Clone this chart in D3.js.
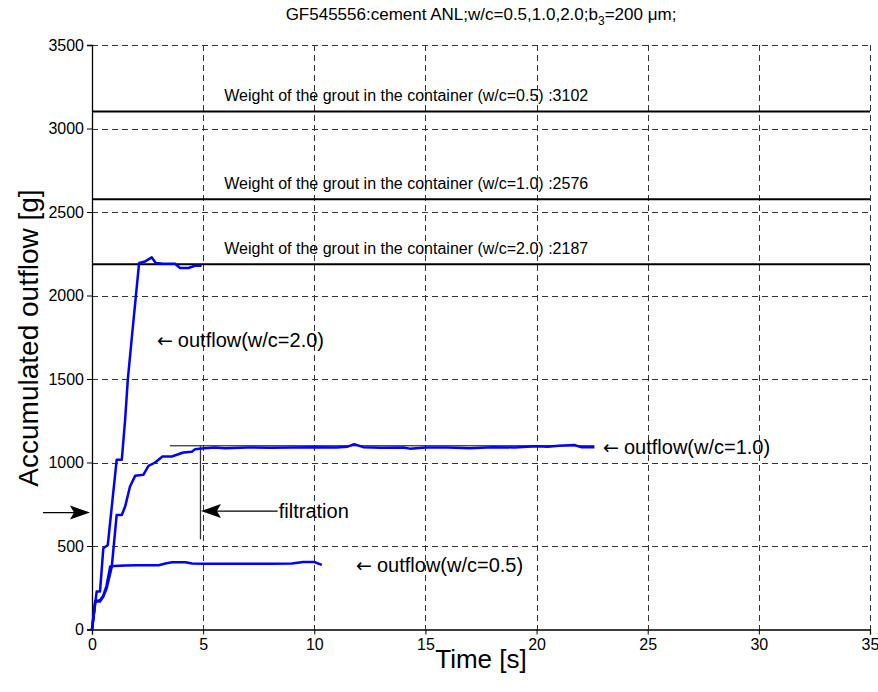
<!DOCTYPE html>
<html>
<head>
<meta charset="utf-8">
<script src="https://cdn.jsdelivr.net/npm/d3@7"></script>
<style>
  html, body { margin: 0; padding: 0; background: #fff; }
  svg { display: block; font-family: "Liberation Sans", Arial, Helvetica, sans-serif; }
</style>
</head>
<body>
<svg id="chart" width="878" height="692"></svg>
<script>
// Axis ticks
const timeTicks = [0, 5, 10, 15, 20, 25, 30, 35];
const outflowTicks = [0, 500, 1000, 1500, 2000, 2500, 3000, 3500];

// Weight of grout in the container for each w/c ratio
const groutRatios = ["0.5", "1.0", "2.0"];
const groutWeights = [3102, 2576, 2187];

// Accumulated outflow, w/c = 2.0
const time20 = [0, 0.21, 0.36, 0.51, 0.71, 1.11, 1.34, 1.49, 1.61, 1.8, 1.98, 2.12, 2.39, 2.69, 2.87, 3.2, 3.74, 3.96, 4.34, 4.63, 4.93];
const flow20 = [0, 227, 227, 487, 506, 1016, 1016, 1256, 1495, 1760, 2005, 2195, 2204, 2228, 2195, 2190, 2190, 2165, 2165, 2178, 2178];

// Accumulated outflow, w/c = 1.0
const time10 = [0, 0.14, 0.36, 0.51, 0.66, 0.89, 1.11, 1.34, 1.49, 1.71, 1.94, 2.31, 2.54, 2.84, 3.17, 3.59, 4.11, 4.49, 4.64, 4.94,
  5.5, 6, 7, 8, 9, 10, 11, 11.5, 11.8, 12.2, 13, 14, 14.3, 15, 16, 17, 18, 19, 20, 20.5, 21, 21.7, 22, 22.6];
const flow10 = [0, 167, 167, 197, 247, 376, 686, 686, 736, 856, 920, 926, 980, 1000, 1036, 1036, 1060, 1064, 1080, 1084,
  1090, 1085, 1090, 1088, 1090, 1092, 1090, 1095, 1110, 1092, 1088, 1090, 1083, 1090, 1090, 1085, 1092, 1090, 1098, 1095, 1100, 1105, 1092, 1092];

// Accumulated outflow, w/c = 0.5
const time05 = [0, 0.15, 0.35, 0.5, 0.65, 0.82, 1.0, 1.5, 2.0, 3.0, 3.3, 3.6, 4.2, 4.5, 5.0, 6, 7, 8, 9, 9.5, 10.0, 10.34];
const flow05 = [0, 170, 175, 200, 260, 378, 380, 383, 385, 385, 395, 403, 403, 395, 393, 393, 393, 393, 395, 404, 404, 387];

// Text annotations next to the curves
const curveNotes = ["outflow(w/c=2.0)", "outflow(w/c=1.0)", "outflow(w/c=0.5)"];
const noteTime = [2.92, 22.99, 11.88];
const noteFlow = [1732, 1092, 386];

const svg = d3.select("#chart");
const margin = { left: 92, right: 8, top: 45, bottom: 62.5 };
const W = 878, H = 692;

const x = d3.scaleLinear().domain([0, 35]).range([margin.left, W - margin.right]);
const y = d3.scaleLinear().domain([0, 3500]).range([H - margin.bottom, margin.top]);

// Dashed grid
const grid = svg.append("g").attr("stroke", "#333").attr("stroke-width", 1).attr("stroke-dasharray", "6,4");
grid.selectAll("line.v").data(timeTicks.slice(1)).join("line")
  .attr("x1", d => Math.round(x(d)) + 0.5).attr("x2", d => Math.round(x(d)) + 0.5)
  .attr("y1", y(3500)).attr("y2", y(0));
grid.selectAll("line.h").data(outflowTicks.slice(1)).join("line")
  .attr("x1", x(0)).attr("x2", x(35))
  .attr("y1", d => Math.round(y(d)) + 0.5).attr("y2", d => Math.round(y(d)) + 0.5);

// Axes
const xAxis = d3.axisBottom(x).tickValues(timeTicks).tickSize(5).tickPadding(4).tickFormat(d3.format("d"));
const yAxis = d3.axisLeft(y).tickValues(outflowTicks).tickSize(5).tickPadding(3).tickFormat(d3.format("d"));

const gx = svg.append("g").attr("transform", `translate(0,${y(0)})`).call(xAxis);
const gy = svg.append("g").attr("transform", `translate(${x(0)},0)`).call(yAxis);
[gx, gy].forEach(g => {
  g.select(".domain").attr("stroke", "#000").attr("stroke-width", 1.3);
  g.selectAll(".tick line").attr("stroke", "#000");
  g.selectAll(".tick text").attr("fill", "#000").style("font-size", "16px")
    .style("font-family", "'Liberation Sans', Arial, sans-serif");
});

// Grout weight reference lines
svg.append("g").selectAll("line").data(groutWeights).join("line")
  .attr("x1", x(0)).attr("x2", x(35))
  .attr("y1", d => y(d)).attr("y2", d => y(d))
  .attr("stroke", "#000").attr("stroke-width", 2);

svg.append("g").selectAll("text").data(groutWeights).join("text")
  .attr("x", x(5.95))
  .attr("y", d => y(d) - 10)
  .style("font-size", "16px")
  .text((d, i) => `Weight of the grout in the container (w/c=${groutRatios[i]}) :${d}`);

// Filtration marker lines
svg.append("line")
  .attr("x1", x(3.5)).attr("x2", x(22.6)).attr("y1", y(1100)).attr("y2", y(1100))
  .attr("stroke", "#000").attr("stroke-width", 1);
svg.append("line")
  .attr("x1", x(4.88)).attr("x2", x(4.88)).attr("y1", y(1100)).attr("y2", y(540))
  .attr("stroke", "#333").attr("stroke-width", 1.3);

// Outflow curves
const line = d3.line().x(d => x(d[0])).y(d => y(d[1]));
const curves = [[time20, flow20], [time10, flow10], [time05, flow05]];
svg.append("g").selectAll("path").data(curves).join("path")
  .attr("d", c => line(c[0].map((t, i) => [t, c[1][i]])))
  .attr("fill", "none").attr("stroke", "#0000ff").attr("stroke-width", 2.5)
  .attr("stroke-linejoin", "round");

// Curve annotations: arrow glyph followed by the label
const notes = svg.append("g").selectAll("text").data(curveNotes).join("text")
  .attr("x", (d, i) => x(noteTime[i]))
  .attr("y", (d, i) => y(noteFlow[i]) + 7)
  .style("font-size", "20px");
notes.append("tspan").style("font-family", "'DejaVu Sans', sans-serif").style("font-size", "19px").text("\u2190");
notes.append("tspan").attr("dx", 5).text(d => d);

// Arrow helper: filled head with a slightly concave back
function arrowHead(tipX, tipY, dir) {
  const L = 20, Hh = 7, back = 4;
  return `M${tipX},${tipY} L${tipX - dir * L},${tipY - Hh} L${tipX - dir * (L - back)},${tipY} L${tipX - dir * L},${tipY + Hh} Z`;
}

// "filtration" arrow pointing at the filtration onset
const fy = y(709);
svg.append("line").attr("x1", x(4.9) + 16).attr("x2", x(8.35)).attr("y1", fy).attr("y2", fy)
  .attr("stroke", "#000").attr("stroke-width", 1.2);
svg.append("path").attr("d", arrowHead(x(4.9), fy, -1)).attr("fill", "#000");
svg.append("text").attr("x", x(8.4)).attr("y", fy + 7).style("font-size", "20px").text("filtration");

// Arrow at the axis marking the same level
const ay = y(700);
svg.append("line").attr("x1", 43).attr("x2", x(0) - 16).attr("y1", ay).attr("y2", ay)
  .attr("stroke", "#000").attr("stroke-width", 1.2);
svg.append("path").attr("d", arrowHead(x(0) - 2, ay, 1)).attr("fill", "#000");

// Title and axis labels
const title = svg.append("text").attr("x", 481).attr("y", 20).attr("text-anchor", "middle").style("font-size", "17px");
title.append("tspan").text("GF545556:cement ANL;w/c=0.5,1.0,2.0;b");
title.append("tspan").attr("dy", 5).style("font-size", "12px").text("3");
title.append("tspan").attr("dy", -5).text("=200 \u03bcm;");

svg.append("text").attr("x", 481).attr("y", 668).attr("text-anchor", "middle")
  .style("font-size", "26px").text("Time [s]");
svg.append("text").attr("transform", `translate(38,338) rotate(-90)`).attr("text-anchor", "middle")
  .style("font-size", "28px").text("Accumulated outflow [g]");
</script>
</body>
</html>
